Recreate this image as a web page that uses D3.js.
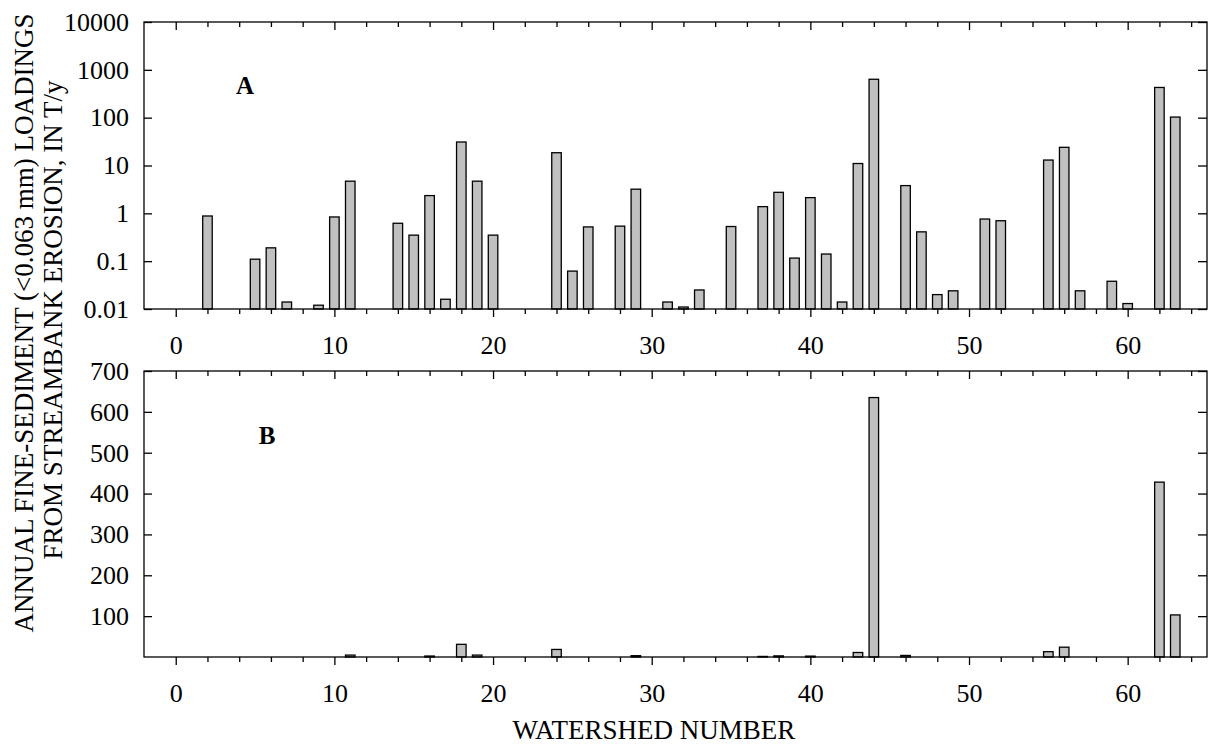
<!DOCTYPE html>
<html>
<head>
<meta charset="utf-8">
<script src="https://cdn.jsdelivr.net/npm/d3@7"></script>
<style>
  html, body { margin: 0; padding: 0; background: #fff; }
  svg { display: block; }
  text { font-family: "Liberation Serif", "Times New Roman", serif; fill: #000; }
</style>
</head>
<body>
<svg id="chart" width="1212" height="746"></svg>
<script>
// Watershed numbers with streambank-erosion fine-sediment loadings (T/y)
const watersheds = [2, 5, 6, 7, 9, 10, 11, 14, 15, 16, 17, 18, 19, 20, 24, 25, 26, 28, 29,
  31, 32, 33, 35, 37, 38, 39, 40, 41, 42, 43, 44, 46, 47, 48, 49, 51, 52, 55, 56, 57, 59, 60, 62, 63];
const loadings = [0.88, 0.11, 0.19, 0.014, 0.012, 0.84, 4.7, 0.62, 0.35, 2.35, 0.016, 31, 4.7, 0.35,
  18.5, 0.062, 0.52, 0.54, 3.2, 0.014, 0.011, 0.025, 0.53, 1.38, 2.75, 0.116, 2.13, 0.141, 0.014,
  11, 635, 3.8, 0.41, 0.020, 0.024, 0.76, 0.70, 13, 24, 0.024, 0.038, 0.013, 428, 103];

const xMajorTicks = [0, 10, 20, 30, 40, 50, 60];
const xMinorTicks = [2, 4, 6, 8, 12, 14, 16, 18, 22, 24, 26, 28, 32, 34, 36, 38, 42, 44, 46, 48, 52, 54, 56, 58, 62, 64];
const logTicks = [0.01, 0.1, 1, 10, 100, 1000, 10000];
const logTickLabels = ["0.01", "0.1", "1", "10", "100", "1000", "10000"];
const linTicks = [100, 200, 300, 400, 500, 600, 700];

const yTitle1 = "ANNUAL FINE-SEDIMENT (<0.063 mm) LOADINGS";
const yTitle2 = "FROM STREAMBANK EROSION, IN T/y";
const xTitle = "WATERSHED NUMBER";

const data = watersheds.map((w, i) => ({ w, v: loadings[i] }));

const svg = d3.select("#chart");
const left = 144, right = 1207;
const barW = 0.6; // in watershed units

const x = d3.scaleLinear().domain([-2, 65]).range([left, right]);
const yLog = d3.scaleLog().domain([0.01, 10000]).range([309, 22]);
const yLin = d3.scaleLinear().domain([0, 700]).range([657, 371]);

function panel(y, bars, yTickVals, yFmt, labelChar, labelPos) {
  const [y0, y1] = y.range(); // bottom, top
  const g = svg.append("g");

  // bars (those shorter than half a pixel do not show at this scale)
  const visible = bars.filter(d => y0 - y(d.v) >= 0.5);
  g.selectAll("rect.bar").data(visible).join("rect")
    .attr("class", "bar")
    .attr("x", d => x(d.w - barW / 2))
    .attr("width", d => x(d.w + barW / 2) - x(d.w - barW / 2))
    .attr("y", d => y(d.v))
    .attr("height", d => y0 - y(d.v))
    .attr("fill", "#c0c0c0")
    .attr("stroke", "#000")
    .attr("stroke-width", 1.3);

  const style = sel => {
    sel.select(".domain").remove();
    sel.selectAll("line").attr("stroke", "#000").attr("stroke-width", 1.3);
    sel.selectAll("text").attr("font-size", 26).attr("font-family", "'Liberation Serif', 'Times New Roman', serif");
  };

  // bottom axis: labelled majors + minors, outward
  g.append("g").attr("transform", `translate(0,${y0})`)
    .call(d3.axisBottom(x).tickValues(xMajorTicks).tickSize(8).tickPadding(19).tickFormat(d3.format("d")))
    .call(style);
  g.append("g").attr("transform", `translate(0,${y0})`)
    .call(d3.axisBottom(x).tickValues(xMinorTicks).tickSize(5).tickFormat(""))
    .call(style);

  // top axis: inward ticks
  g.append("g").attr("transform", `translate(0,${y1})`)
    .call(d3.axisTop(x).tickValues(xMajorTicks).tickSize(-8).tickFormat(""))
    .call(style);
  g.append("g").attr("transform", `translate(0,${y1})`)
    .call(d3.axisTop(x).tickValues(xMinorTicks).tickSize(-5).tickFormat(""))
    .call(style);

  // left axis: inward ticks with labels
  g.append("g").attr("transform", `translate(${left},0)`)
    .call(d3.axisLeft(y).tickValues(yTickVals).tickSize(-8).tickPadding(15).tickFormat(yFmt))
    .call(style);

  // right axis: inward ticks
  g.append("g").attr("transform", `translate(${right},0)`)
    .call(d3.axisRight(y).tickValues(yTickVals).tickSize(-9).tickFormat(""))
    .call(style);

  // frame
  g.append("rect")
    .attr("x", left).attr("y", y1)
    .attr("width", right - left).attr("height", y0 - y1)
    .attr("fill", "none").attr("stroke", "#000").attr("stroke-width", 1.3);

  // panel letter
  g.append("text")
    .attr("x", labelPos[0]).attr("y", labelPos[1])
    .attr("text-anchor", "middle")
    .attr("font-size", 25).attr("font-weight", "bold")
    .text(labelChar);
}

panel(yLog, data, logTicks, d => logTickLabels[logTicks.indexOf(d)], "A", [245, 94]);
panel(yLin, data, linTicks, d3.format("d"), "B", [267, 444]);

// axis titles
svg.append("text")
  .attr("transform", "translate(33,323) rotate(-90)")
  .attr("text-anchor", "middle").attr("font-size", 27)
  .text(yTitle1);
svg.append("text")
  .attr("transform", "translate(62,320) rotate(-90)")
  .attr("text-anchor", "middle").attr("font-size", 27)
  .text(yTitle2);
svg.append("text")
  .attr("x", 654).attr("y", 739)
  .attr("text-anchor", "middle").attr("font-size", 27)
  .text(xTitle);
</script>
</body>
</html>
